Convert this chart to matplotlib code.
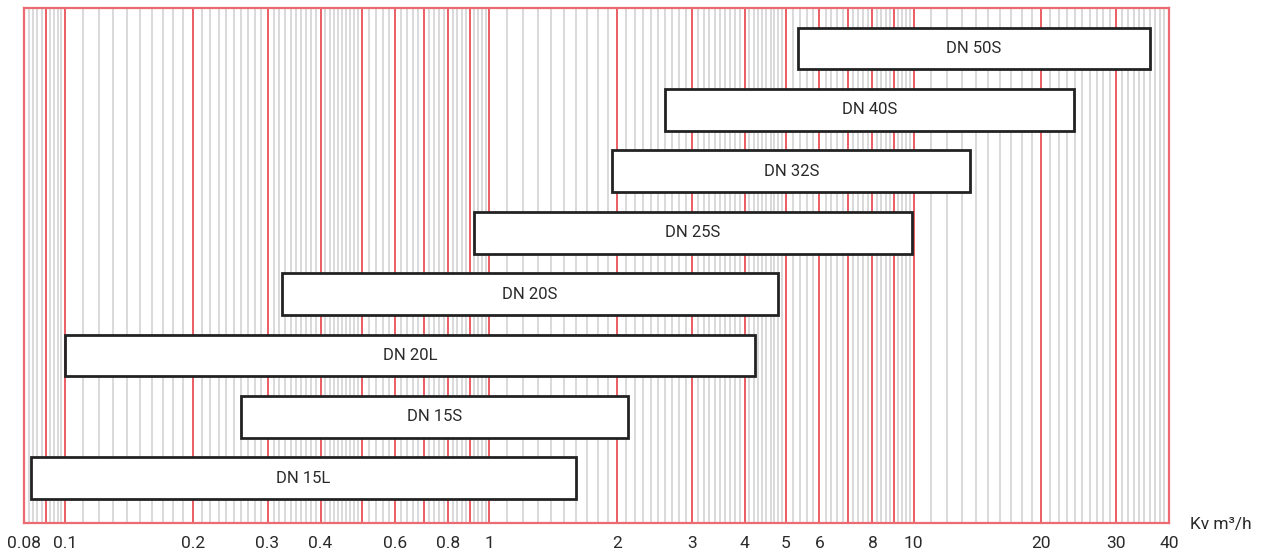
import matplotlib
matplotlib.use("Agg")
import matplotlib.pyplot as plt
from matplotlib.ticker import FixedLocator, FuncFormatter, NullFormatter

plt.rcParams["font.family"] = ["Roboto", "DejaVu Sans"]

# Rangos de Kv por tamaño de válvula (m3/h), de abajo hacia arriba
VALVULAS = ["DN 15L", "DN 15S", "DN 20L", "DN 20S", "DN 25S", "DN 32S", "DN 40S", "DN 50S"]
KV_MIN = [0.083, 0.26, 0.1, 0.325, 0.92, 1.95, 2.6, 5.35]
KV_MAX = [1.6, 2.12, 4.23, 4.78, 9.9, 13.6, 23.9, 36.0]

X_MIN, X_MAX = 0.08, 40
ETIQUETAS_X = [0.08, 0.1, 0.2, 0.3, 0.4, 0.6, 0.8, 1, 2, 3, 4, 5, 6, 8, 10, 20, 30, 40]

ROJO = "#e6323a"
GRIS = "#cfcfcf"


def lineas_papel_log():
    """Líneas mayores (cada entero de la década) y menores del papel log."""
    mayores, menores = [], []
    for dec in [0.01, 0.1, 1, 10]:
        for k in range(1, 10):
            mayores.append(round(k * dec, 6))
        # 1..5 cada 0.1, 5..10 cada 0.2
        for i in range(10, 50):
            if i % 10:
                menores.append(round(i / 10 * dec, 6))
        for i in range(50, 100, 2):
            if i % 10:
                menores.append(round(i / 10 * dec, 6))
    mayores = [v for v in mayores if X_MIN <= v <= X_MAX]
    menores = [v for v in menores if X_MIN < v < X_MAX]
    return mayores, menores


fig = plt.figure(figsize=(12.66, 5.53), dpi=100)
ax = fig.add_axes([24 / 1266, 30 / 553, 1145 / 1266, 515 / 553])

ax.set_xscale("log")
ax.set_xlim(X_MIN, X_MAX)
ax.set_ylim(-0.73, 7.66)

mayores, menores = lineas_papel_log()
ax.xaxis.set_major_locator(FixedLocator(mayores))
ax.xaxis.set_minor_locator(FixedLocator(menores))
ax.xaxis.set_major_formatter(FuncFormatter(
    lambda v, _: f"{v:g}" if any(abs(v - e) < 1e-9 for e in ETIQUETAS_X) else ""))
ax.xaxis.set_minor_formatter(NullFormatter())
ax.tick_params(axis="x", which="both", length=0, pad=9, labelsize=12.5,
               labelcolor="#2a2a2a")
ax.set_yticks([])

ax.grid(which="major", axis="x", color=ROJO, lw=1.1)
ax.grid(which="minor", axis="x", color=GRIS, lw=1.1)
ax.set_axisbelow(True)

for s in ax.spines.values():
    s.set_color("#ec6b72")
    s.set_linewidth(1.6)

for i, (nombre, a, b) in enumerate(zip(VALVULAS, KV_MIN, KV_MAX)):
    ax.barh(i, b - a, left=a, height=0.68, color="white",
            edgecolor="#222222", lw=2, zorder=3)
    ax.text((a * b) ** 0.5, i, nombre, ha="center", va="center",
            fontsize=12, color="#2a2a2a", zorder=4)

fig.text(1190 / 1266, 1 - 524 / 553, "Kv m³/h", ha="left", va="center",
         fontsize=12.5, color="#2a2a2a")

fig.savefig("out.png", dpi=100)
